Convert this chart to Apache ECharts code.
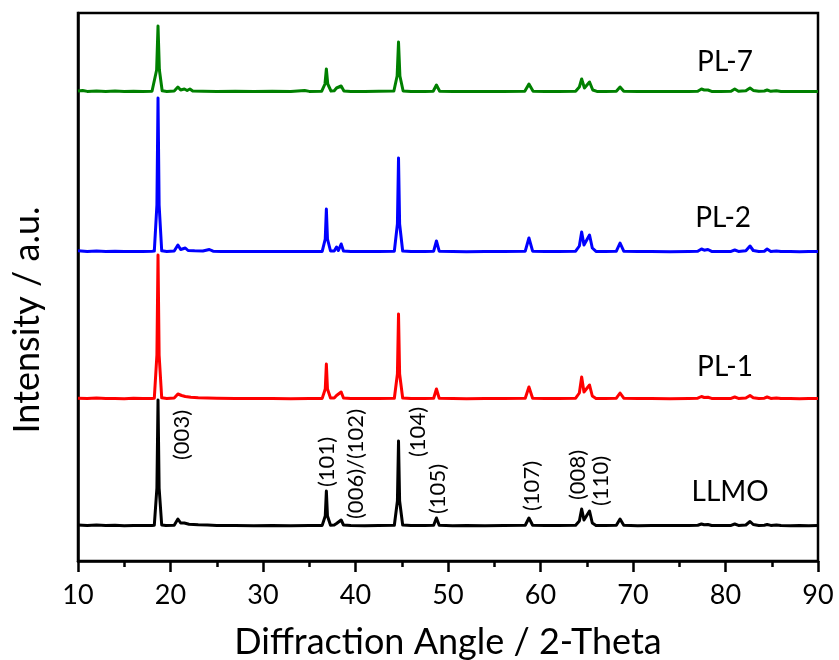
<!DOCTYPE html>
<html>
<head>
<meta charset="utf-8">
<title>XRD patterns</title>
<script src="https://cdn.jsdelivr.net/npm/echarts@6/dist/echarts.min.js"></script>
<style>
  html, body { margin: 0; padding: 0; background: #fff; }
  #chart { width: 839px; height: 660px; }
</style>
</head>
<body>
<div id="chart"></div>
<script>
// Diffraction patterns: [2-theta (deg), intensity above the pattern's own baseline]
const llmo = [[10,1],[11,0.5],[12,1],[13,0.4],[14,0.8],[15,0.3],[16,0.6],[17,0.4],[18,0.6],[18.25,0.8],[18.53,38],[18.65,126],[18.77,38],[19.05,1],[19.5,0.4],[20.4,0.8],[20.8,7],[21.1,3],[21.5,3],[22,1.8],[23,1.2],[24,1],[25,0.6],[27,0.5],[29,0.3],[31,0.5],[33,0.2],[35,0.4],[36.4,0.6],[36.73,10],[36.85,35],[36.97,10],[37.3,0.8],[37.7,1],[37.95,2.5],[38.15,1.2],[38.45,6],[38.7,1],[39.5,0.5],[41,0.3],[42.5,0.5],[44.2,0.8],[44.53,25],[44.65,85],[44.77,25],[45.1,1],[46,0.4],[47.5,0.6],[48.45,0.8],[48.75,8],[49.05,0.8],[50.5,0.3],[52,0.6],[54,0.3],[56,0.5],[58.35,0.8],[58.75,8],[59.15,0.8],[60.5,0.4],[62,0.6],[63.8,0.7],[64.2,5],[64.45,17],[64.7,6],[64.9,5],[65.3,15],[65.6,3],[66,0.6],[67,0.4],[68.2,0.8],[68.6,7],[69,0.8],[70.5,0.3],[72,0.6],[74,0.4],[76,0.5],[77,0.8],[77.4,2],[77.7,1.2],[78.1,1.5],[78.5,0.5],[79.5,0.4],[80.6,0.6],[81,2],[81.4,0.6],[82.2,1],[82.65,4.5],[83,1.5],[83.6,0.6],[84.2,0.8],[84.5,1.5],[84.9,0.6],[85.5,1],[86,0.4],[87,0.3],[88,0.5],[89,0.3],[90,0.5]];
const pl1 = [[10,0.8],[11,0.4],[12,0.9],[13,0.5],[14,0.6],[15,0.3],[16,0.7],[17,0.4],[18,0.6],[18.25,0.8],[18.53,44],[18.65,144],[18.77,44],[19.05,1.2],[19.6,0.6],[20.4,1],[20.8,5],[21.2,3.5],[21.6,2.5],[22.2,1.8],[23,1.3],[24,1],[25,0.8],[27,0.5],[29,0.4],[31,0.6],[33,0.3],[35,0.5],[36.4,0.6],[36.73,10],[36.85,35],[36.97,10],[37.3,1],[37.7,1],[37.95,3.5],[38.15,1.8],[38.45,7],[38.7,1],[39.5,0.5],[41,0.4],[42.5,0.5],[44.2,0.8],[44.53,25],[44.65,85],[44.77,25],[45.1,1],[46,0.5],[47.5,0.4],[48.45,0.8],[48.75,10],[49.05,0.8],[50.5,0.5],[52,0.3],[54,0.5],[56,0.4],[58.35,0.8],[58.75,12],[59.15,0.8],[60.5,0.5],[62,0.4],[63.8,0.8],[64.2,6],[64.45,22],[64.7,7],[64.9,5],[65.3,14],[65.6,3],[66,0.6],[67,0.4],[68.2,0.8],[68.6,6],[69,0.8],[70.5,0.4],[72,0.6],[74,0.3],[76,0.5],[77,0.8],[77.4,2.5],[77.7,1.5],[78.1,1.8],[78.5,0.6],[79.5,0.4],[80.6,0.6],[81,2],[81.4,0.6],[82.2,1],[82.65,3.5],[83,1.3],[83.6,0.6],[84.2,0.8],[84.5,2],[84.9,0.6],[85.5,1],[86,0.4],[87,0.5],[88,0.3],[89,0.5],[90,0.4]];
const pl2 = [[10,1.2],[11,0.6],[12,0.9],[13,0.5],[14,0.8],[15,0.4],[16,0.6],[17,0.5],[18,0.7],[18.25,0.9],[18.53,47],[18.65,154],[18.77,47],[19.05,1.2],[19.6,0.6],[20.4,1],[20.8,7],[21.1,2.5],[21.6,4],[21.9,1.5],[22.6,1.2],[23.5,1],[24.2,2.5],[24.6,0.8],[25.5,0.6],[27,0.5],[29,0.6],[31,0.4],[33,0.6],[35,0.4],[36.4,0.6],[36.73,13],[36.85,43],[36.97,13],[37.3,1],[37.7,1],[37.95,5],[38.15,1.5],[38.45,8],[38.7,1],[39.5,0.5],[41,0.4],[42.5,0.6],[44.2,0.8],[44.53,28],[44.65,94],[44.77,28],[45.1,1],[46,0.5],[47.5,0.4],[48.45,0.8],[48.75,11],[49.05,0.8],[50.5,0.5],[52,0.3],[54,0.5],[56,0.4],[58.35,0.8],[58.75,14],[59.15,0.8],[60.5,0.5],[62,0.4],[63.8,0.8],[64.2,6],[64.45,20],[64.7,7],[64.9,6],[65.3,17],[65.6,4],[66,0.6],[67,0.4],[68.2,0.8],[68.6,9],[69,0.8],[70.5,0.4],[72,0.6],[74,0.3],[76,0.5],[77,0.8],[77.4,3],[77.7,1.8],[78.1,2.5],[78.5,0.6],[79.5,0.4],[80.6,0.6],[81,2],[81.4,0.6],[82.2,1.2],[82.65,6],[83,1.5],[83.6,0.6],[84.2,0.8],[84.5,3],[84.9,0.6],[85.5,1],[86,0.4],[87,0.5],[88,0.3],[89,0.5],[90,0.4]];
const pl7 = [[10,1],[10.5,1.5],[11,0.6],[12,1],[13,0.6],[14,0.9],[15,0.4],[16,0.8],[17,0.5],[18,0.7],[18.2,1],[18.5,22],[18.65,66],[18.8,22],[19.1,1.2],[19.6,0.6],[20.4,1],[20.8,5],[21.1,2],[21.5,3],[21.8,1.5],[22.1,3],[22.4,1],[23.5,0.8],[25,0.6],[27,0.8],[29,0.5],[31,0.7],[33,0.4],[34.5,1.5],[35,0.6],[36.35,0.8],[36.7,8],[36.85,23],[37,8],[37.35,1],[37.7,1.2],[37.95,4],[38.15,2],[38.45,6],[38.75,1],[39.5,0.6],[41,0.5],[42.5,0.8],[44.15,1],[44.5,16],[44.65,50],[44.8,16],[45.15,1],[46,0.6],[47.5,0.5],[48.4,0.8],[48.75,7],[49.1,0.8],[50.5,0.6],[52,0.4],[54,0.6],[56,0.5],[58.3,0.8],[58.75,8],[59.2,0.8],[60.5,0.5],[62,0.4],[63.8,0.8],[64.2,5],[64.45,13],[64.75,4],[64.95,4.5],[65.3,10],[65.65,2],[66.1,0.6],[67,0.4],[68.2,0.8],[68.6,5],[69,0.8],[70.5,0.4],[72,0.6],[74,0.4],[76,0.5],[77,0.8],[77.4,3],[77.7,2],[78.1,2],[78.5,0.6],[79.5,0.5],[80.6,0.7],[81,3],[81.4,0.8],[82.2,1.2],[82.65,4],[83,1.6],[83.6,0.8],[84.2,1],[84.5,2],[84.9,0.7],[85.5,1.2],[86,0.5],[87,0.6],[88,0.4],[89,0.6],[90,0.5]];

// Samples, bottom to top: name, pattern, vertical stacking offset, line colour
const sampleNames = ['LLMO', 'PL-1', 'PL-2', 'PL-7'];
const samplePatterns = [llmo, pl1, pl2, pl7];
const sampleOffsets = [35, 162, 309, 469];
const sampleColors = ['#000000', '#ff0000', '#0000ff', '#008000'];
// where each sample's name sits, in axis units
const nameAnchorX = [80.5, 79.95, 79.75, 79.95];
const nameAnchorY = [69, 194, 343, 499];

// Miller indices marked above the LLMO reflections
const millerText = ['(003)', '(101)', '(006)/(102)', '(104)', '(105)', '(107)', '(008)', '(110)'];
const millerX = [21.24, 36.92, 40.05, 46.76, 48.92, 59.08, 64.05, 66.54];
const millerY = [126, 99, 97, 129, 72, 75, 86, 80];

const xTicks = [10, 20, 30, 40, 50, 60, 70, 80, 90];

const FONT = 'Lato, "Open Sans", sans-serif';

const series = sampleNames.map((name, i) => {
  const off = sampleOffsets[i];
  const marks = [{
    coord: [nameAnchorX[i], nameAnchorY[i]],
    value: name,
    label: { fontSize: 28 }
  }];
  if (name === 'LLMO') {
    millerText.forEach((t, k) => {
      marks.push({
        coord: [millerX[k], millerY[k]],
        value: t,
        label: { fontSize: 22, rotate: 90 }
      });
    });
  }
  return {
    name,
    type: 'line',
    data: samplePatterns[i].map(p => [p[0], p[1] + off]),
    showSymbol: false,
    symbol: 'none',
    sampling: null,
    lineStyle: { color: sampleColors[i], width: 3, join: 'round' },
    itemStyle: { color: sampleColors[i] },
    z: 10 - i,
    markPoint: {
      symbol: 'circle',
      symbolSize: 1,
      itemStyle: { color: 'rgba(0,0,0,0)' },
      silent: true,
      animation: false,
      label: {
        show: true,
        position: 'inside',
        align: 'center',
        verticalAlign: 'middle',
        color: '#000',
        fontFamily: FONT,
        formatter: p => p.value
      },
      data: marks
    }
  };
});

const chart = echarts.init(document.getElementById('chart'), null, { renderer: 'canvas' });
chart.setOption({
  animation: false,
  backgroundColor: '#ffffff',
  grid: {
    left: 78, right: 21, top: 13, bottom: 99,
    outerBoundsMode: 'none',
    containLabel: false,
    show: true, borderColor: '#000', borderWidth: 2.5, backgroundColor: 'transparent'
  },
  xAxis: {
    type: 'value',
    min: xTicks[0],
    max: xTicks[xTicks.length - 1],
    interval: 10,
    name: 'Diffraction Angle / 2-Theta',
    nameLocation: 'middle',
    nameGap: 63,
    nameTextStyle: { fontSize: 36, color: '#000', fontFamily: FONT },
    axisLine: { show: true, lineStyle: { color: '#000', width: 2.5 } },
    axisTick: { show: true, inside: false, length: 11, lineStyle: { color: '#000', width: 2.5 } },
    minorTick: { show: true, splitNumber: 2, length: 6, lineStyle: { color: '#000', width: 2.5 } },
    axisLabel: { fontSize: 27, color: '#000', margin: 21, fontFamily: FONT },
    splitLine: { show: false }
  },
  yAxis: {
    type: 'value',
    min: 0,
    max: 548,
    name: 'Intensity / a.u.',
    nameLocation: 'middle',
    nameGap: 33,
    nameTextStyle: { fontSize: 36, color: '#000', fontFamily: FONT, padding: [0, 66, 0, 0] },
    axisLine: { show: true, lineStyle: { color: '#000', width: 2.5 } },
    axisTick: { show: false },
    axisLabel: { show: false },
    splitLine: { show: false }
  },
  series
});
</script>
</body>
</html>
